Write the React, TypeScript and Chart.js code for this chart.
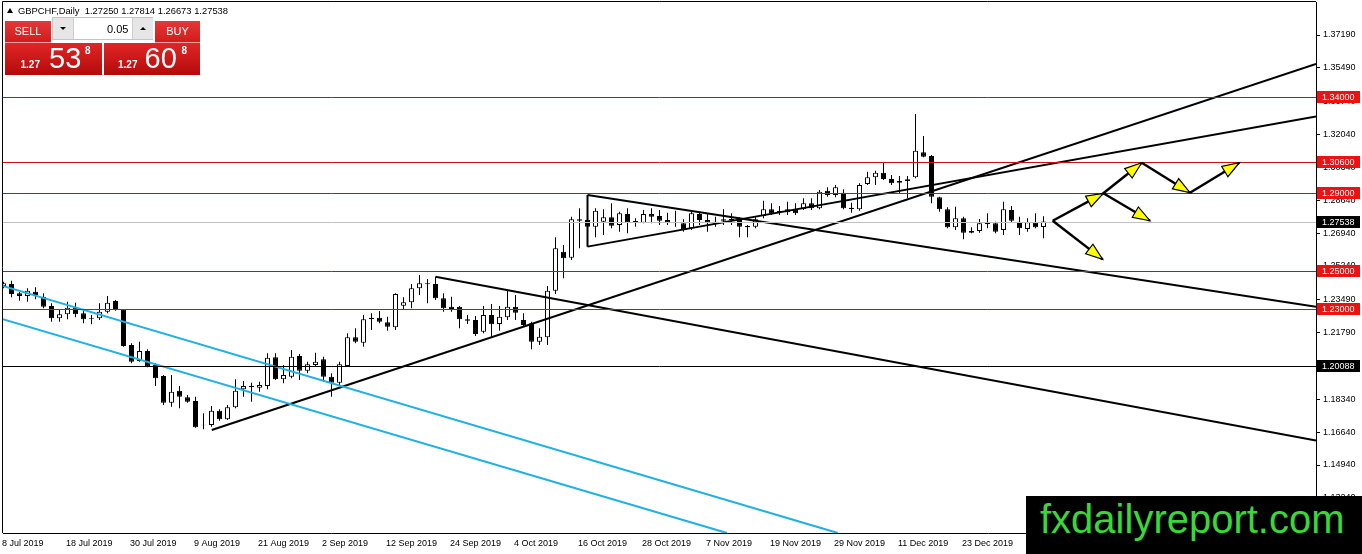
import React, { useEffect, useRef } from "react";
import { Chart, registerables } from "chart.js";

Chart.register(...registerables);

const FONT = "'Liberation Sans', Arial, sans-serif";

// ---- Daily candles (GBPCHF), bar index 0 = 8 Jul 2019 ----
const opens = [
  1.24203, 1.24306, 1.23823, 1.23685, 1.23909, 1.23651, 1.23168, 1.2253, 1.22737, 1.23099,
  1.22788, 1.2253, 1.2253, 1.22875, 1.23426, 1.22995, 1.2115, 1.20322, 1.20839, 1.20115,
  1.19546, 1.18166, 1.18787, 1.18442, 1.18252, 1.16993, 1.1701, 1.17752, 1.17303, 1.17924,
  1.18856, 1.18959, 1.18942, 1.19028, 1.20512, 1.19373, 1.19511, 1.20581, 1.19822, 1.20115,
  1.20408, 1.19511, 1.19201, 1.20063, 1.21546, 1.2127, 1.22564, 1.22564, 1.22322, 1.22063,
  1.23185, 1.23357, 1.24081, 1.2434, 1.24306, 1.23564, 1.23133, 1.23133, 1.22477, 1.22443,
  1.21839, 1.22702, 1.22236, 1.22581, 1.23133, 1.22443, 1.2227, 1.21322, 1.21546, 1.23961,
  1.25979, 1.25668, 1.27652, 1.27617, 1.27272, 1.27531, 1.27755, 1.27359, 1.27928, 1.27566,
  1.27479, 1.27928, 1.27824, 1.27617, 1.27514, 1.27445, 1.27186, 1.27928, 1.27617, 1.27531,
  1.27583, 1.27686, 1.27669, 1.27307, 1.27272, 1.27824, 1.28169, 1.28014, 1.28014, 1.28169,
  1.28169, 1.2848, 1.28221, 1.29135, 1.28911, 1.29032, 1.28256, 1.2817, 1.29481, 1.29825,
  1.30067, 1.29739, 1.29549, 1.29636, 1.29825, 1.31119, 1.30929, 1.28791, 1.2817, 1.27238,
  1.27704, 1.27049, 1.27049, 1.27411, 1.27445, 1.271, 1.28135, 1.27531, 1.27152, 1.27497,
  1.2725,
];
const highs = [
  1.24427, 1.24479, 1.23909, 1.24082, 1.24134, 1.23823, 1.23306, 1.22961, 1.23392, 1.2334,
  1.22961, 1.22702, 1.23306, 1.23685, 1.23478, 1.22995, 1.21236, 1.21322, 1.20926, 1.20201,
  1.19597, 1.19597, 1.19028, 1.18563, 1.18476, 1.17614, 1.17993, 1.17821, 1.18045, 1.19373,
  1.19287, 1.19201, 1.19252, 1.20719, 1.20719, 1.20115, 1.20891, 1.20684, 1.20287, 1.20753,
  1.20546, 1.19684, 1.20287, 1.21753, 1.22012, 1.22702, 1.22788, 1.22909, 1.22615, 1.23823,
  1.23616, 1.24306, 1.24771, 1.24564, 1.24685, 1.23823, 1.2365, 1.23167, 1.22702, 1.2265,
  1.23167, 1.23271, 1.23167, 1.23961, 1.23736, 1.22788, 1.22357, 1.22012, 1.24202, 1.2672,
  1.26324, 1.2779, 1.28221, 1.27962, 1.28221, 1.28169, 1.2848, 1.28049, 1.28221, 1.27704,
  1.28135, 1.28221, 1.28135, 1.27997, 1.281, 1.27652, 1.28049, 1.28049, 1.27962, 1.2779,
  1.28169, 1.27962, 1.27755, 1.27359, 1.2779, 1.28618, 1.2848, 1.28342, 1.28566, 1.2848,
  1.28738, 1.28738, 1.2917, 1.29308, 1.29428, 1.29205, 1.28515, 1.29515, 1.30119, 1.3017,
  1.30584, 1.29946, 1.29894, 1.29894, 1.33103, 1.31964, 1.30981, 1.28825, 1.28273, 1.28308,
  1.2779, 1.27238, 1.27669, 1.27963, 1.27531, 1.28566, 1.28342, 1.2779, 1.27704, 1.27963,
  1.27814,
];
const lows = [
  1.24082, 1.23616, 1.23444, 1.23392, 1.23513, 1.23047, 1.22357, 1.22357, 1.22478, 1.22581,
  1.22271, 1.22219, 1.22443, 1.22788, 1.22926, 1.21064, 1.20201, 1.20287, 1.19994, 1.19028,
  1.18045, 1.17959, 1.17873, 1.18166, 1.16872, 1.16786, 1.16924, 1.17234, 1.17269, 1.17873,
  1.18476, 1.18218, 1.18735, 1.18856, 1.19339, 1.19166, 1.19425, 1.19339, 1.19684, 1.20029,
  1.19252, 1.18476, 1.1908, 1.20029, 1.21235, 1.21063, 1.21925, 1.2227, 1.21891, 1.21925,
  1.22995, 1.23047, 1.23736, 1.23305, 1.23478, 1.22874, 1.22874, 1.22012, 1.22236, 1.21615,
  1.21753, 1.2158, 1.21891, 1.22443, 1.22443, 1.22098, 1.20925, 1.21149, 1.21149, 1.23788,
  1.24599, 1.25547, 1.26151, 1.27186, 1.2672, 1.26841, 1.27186, 1.27014, 1.26927, 1.27272,
  1.27445, 1.27445, 1.27359, 1.27359, 1.27272, 1.27014, 1.271, 1.27359, 1.27014, 1.27272,
  1.27359, 1.27359, 1.2672, 1.2672, 1.27186, 1.27704, 1.27876, 1.27876, 1.27876, 1.27876,
  1.28135, 1.28135, 1.28169, 1.28825, 1.2879, 1.2817, 1.27997, 1.28101, 1.29429, 1.29429,
  1.29687, 1.29429, 1.28998, 1.28739, 1.29774, 1.3086, 1.2848, 1.28049, 1.27187, 1.271,
  1.26617, 1.26928, 1.26962, 1.27187, 1.26928, 1.26842, 1.2748, 1.26842, 1.27014, 1.27187,
  1.26673,
];
const closes = [
  1.24341, 1.23789, 1.23685, 1.23961, 1.23737, 1.23133, 1.2253, 1.22737, 1.23082, 1.22737,
  1.22478, 1.22495, 1.22875, 1.2334, 1.22961, 1.21098, 1.20287, 1.20839, 1.20029, 1.19425,
  1.18166, 1.18735, 1.18476, 1.18218, 1.1689, 1.17027, 1.17752, 1.17303, 1.17924, 1.18787,
  1.19028, 1.19045, 1.1908, 1.20494, 1.19373, 1.19597, 1.20546, 1.19822, 1.20149, 1.20287,
  1.19511, 1.19201, 1.20149, 1.21546, 1.21322, 1.22477, 1.22477, 1.22357, 1.22098, 1.23788,
  1.23357, 1.24081, 1.2434, 1.24288, 1.23564, 1.23047, 1.23012, 1.22477, 1.22408, 1.21718,
  1.22702, 1.22219, 1.22615, 1.23133, 1.22822, 1.22184, 1.21322, 1.2158, 1.23961, 1.26151,
  1.25634, 1.27652, 1.27583, 1.27272, 1.281, 1.27755, 1.27324, 1.27962, 1.27479, 1.27497,
  1.27928, 1.2779, 1.27583, 1.27479, 1.27479, 1.27134, 1.27962, 1.27617, 1.27479, 1.2741,
  1.27652, 1.27617, 1.27272, 1.27238, 1.27652, 1.28169, 1.27962, 1.28083, 1.28169, 1.27962,
  1.2848, 1.28221, 1.29083, 1.28911, 1.29308, 1.28221, 1.28187, 1.29429, 1.29825, 1.30067,
  1.29739, 1.29515, 1.29636, 1.29722, 1.31205, 1.30895, 1.28825, 1.2817, 1.27238, 1.27704,
  1.26962, 1.26962, 1.27445, 1.2748, 1.27014, 1.2817, 1.27583, 1.27187, 1.27497, 1.27238,
  1.27538,
];

// ---- Axes ----
const xTickIndex = [0, 8, 16, 24, 32, 40, 48, 56, 64, 72, 80, 88, 96, 104, 112, 120];
const xTickLabels = [
  "8 Jul 2019", "18 Jul 2019", "30 Jul 2019", "9 Aug 2019", "21 Aug 2019", "2 Sep 2019",
  "12 Sep 2019", "24 Sep 2019", "4 Oct 2019", "16 Oct 2019", "28 Oct 2019", "7 Nov 2019",
  "19 Nov 2019", "29 Nov 2019", "11 Dec 2019", "23 Dec 2019",
];
const yTicks = [
  1.3719, 1.3549, 1.3374, 1.3204, 1.3034, 1.2864, 1.2694, 1.2524, 1.2349, 1.2179, 1.2009,
  1.1834, 1.1664, 1.1494, 1.1324,
];
const X_MIN = -0.0625;
const X_MAX = 164.0625;
const Y_MIN = 1.11422;
const Y_MAX = 1.38898;

// ---- Levels ----
const redLevels = [1.34, 1.306, 1.29, 1.25, 1.23];
const blackLevel = 1.20088;
const bidLevel = 1.27538;

// ---- Trend lines [barIndex, price] ----
const trendCyanUpper = [[-0.44, 1.2425], [104.3, 1.1142]];
const trendCyanLower = [[-0.44, 1.2253], [90.44, 1.1142]];
const trendAugLow = [[26.03, 1.1675], [164.06, 1.3569]];
const trendTriTop = [[73, 1.2891], [164.06, 1.2313]];
const trendTriBottom = [[73, 1.2624], [164.06, 1.3297]];
const trendTriSide = [[73, 1.2891], [73, 1.2624]];
const trendSepHigh = [[54, 1.2468], [164.06, 1.1621]];

// ---- Scenario arrows ----
const arrowStartX = [131.15, 137.48, 142.28, 148.31, 137.48, 131.15];
const arrowStartY = [1.2758, 1.29, 1.3058, 1.2903, 1.29, 1.2758];
const arrowEndX = [137.48, 142.28, 148.31, 154.48, 143.31, 137.4];
const arrowEndY = [1.29, 1.3058, 1.2903, 1.3058, 1.2758, 1.2558];

const overlayPlugin = {
  id: "mt4Overlay",
  afterDatasetsDraw(chart: any) {
    const { ctx, chartArea: a, scales } = chart;
    const xs = scales.x;
    const ys = scales.y;
    ctx.save();
    ctx.beginPath();
    ctx.rect(a.left, a.top, a.right - a.left, a.bottom - a.top);
    ctx.clip();
    const hline = (v: number, color: string) => {
      const py = Math.round(ys.getPixelForValue(v)) + 0.5;
      ctx.strokeStyle = color;
      ctx.lineWidth = 1;
      ctx.beginPath();
      ctx.moveTo(a.left, py);
      ctx.lineTo(a.right, py);
      ctx.stroke();
    };
    hline(bidLevel, "#c0c0c0");
    hline(blackLevel, "#000000");
    redLevels.forEach((v) => hline(v, "#cc1010"));

    for (let k = 0; k < arrowStartX.length; k++) {
      const x1 = xs.getPixelForValue(arrowStartX[k]);
      const y1 = ys.getPixelForValue(arrowStartY[k]);
      const x2 = xs.getPixelForValue(arrowEndX[k]);
      const y2 = ys.getPixelForValue(arrowEndY[k]);
      ctx.strokeStyle = "#000";
      ctx.lineWidth = 2.5;
      ctx.beginPath();
      ctx.moveTo(x1, y1);
      ctx.lineTo(x2, y2);
      ctx.stroke();
      const ang = Math.atan2(y2 - y1, x2 - x1);
      const L = 17;
      const W = 6;
      const c = Math.cos(ang);
      const s = Math.sin(ang);
      const bx = x2 - L * c;
      const by = y2 - L * s;
      ctx.beginPath();
      ctx.moveTo(x2, y2);
      ctx.lineTo(bx - W * s, by + W * c);
      ctx.lineTo(bx + W * s, by - W * c);
      ctx.closePath();
      ctx.fillStyle = "#ffff00";
      ctx.fill();
      ctx.lineWidth = 1.2;
      ctx.stroke();
    }
    ctx.restore();
  },
  afterDraw(chart: any) {
    const { ctx, chartArea: a, scales } = chart;
    const ys = scales.y;
    ctx.save();
    ctx.strokeStyle = "#000";
    ctx.lineWidth = 1;
    ctx.beginPath();
    ctx.moveTo(a.left - 0.5, a.bottom);
    ctx.lineTo(a.left - 0.5, a.top - 0.5);
    ctx.lineTo(a.right, a.top - 0.5);
    ctx.stroke();
    const label = (v: number, bg: string) => {
      const py = Math.round(ys.getPixelForValue(v));
      ctx.fillStyle = bg;
      ctx.fillRect(a.right + 1, py - 6, 43, 12);
      ctx.fillStyle = "#ffffff";
      ctx.font = `9px ${FONT}`;
      ctx.textBaseline = "middle";
      ctx.textAlign = "left";
      ctx.fillText(v.toFixed(5), a.right + 6, py + 0.5);
    };
    redLevels.forEach((v) => label(v, "#ee1111"));
    label(bidLevel, "#000000");
    label(blackLevel, "#000000");
    ctx.restore();
  },
};

function lineDataset(points: number[][], color: string) {
  return {
    type: "line" as const,
    data: points.map((p) => ({ x: p[0], y: p[1] })),
    borderColor: color,
    borderWidth: 2,
    pointRadius: 0,
    fill: false,
    tension: 0,
    clip: 0,
    order: 1,
  };
}

export default function App() {
  const canvasRef = useRef<HTMLCanvasElement | null>(null);

  useEffect(() => {
    const canvas = canvasRef.current;
    if (!canvas) return;
    const wickData = highs.map((h, i) => ({ x: i, y: [lows[i], h] }));
    const bodyData = opens.map((o, i) => ({ x: i, y: [o, closes[i]] }));
    const bodyColors = opens.map((o, i) => (closes[i] >= o ? "#ffffff" : "#000000"));

    const chart = new Chart(canvas, {
      type: "bar",
      data: {
        datasets: [
          {
            type: "bar",
            data: wickData as any,
            backgroundColor: "#000000",
            borderWidth: 0,
            barThickness: 1,
            grouped: false,
            inflateAmount: 0,
            order: 3,
          } as any,
          {
            type: "bar",
            data: bodyData as any,
            backgroundColor: bodyColors,
            borderColor: "#000000",
            borderWidth: 1,
            borderSkipped: false,
            barThickness: 5,
            grouped: false,
            inflateAmount: 0,
            order: 2,
          } as any,
          lineDataset(trendCyanUpper, "#1fb0e6"),
          lineDataset(trendCyanLower, "#1fb0e6"),
          lineDataset(trendAugLow, "#000000"),
          lineDataset(trendTriTop, "#000000"),
          lineDataset(trendTriBottom, "#000000"),
          lineDataset(trendTriSide, "#000000"),
          lineDataset(trendSepHigh, "#000000"),
        ] as any,
      },
      options: {
        animation: false,
        responsive: true,
        maintainAspectRatio: false,
        events: [],
        layout: { padding: { left: 3, top: 2, right: 0, bottom: 0 } },
        plugins: { legend: { display: false }, tooltip: { enabled: false }, title: { display: false } },
        scales: {
          x: {
            type: "linear",
            min: X_MIN,
            max: X_MAX,
            offset: false,
            grid: { display: false, offset: false },
            border: { display: true, color: "#000000", width: 1 },
            afterBuildTicks: (s: any) => {
              s.ticks = xTickIndex.map((v) => ({ value: v }));
            },
            afterFit: (s: any) => {
              s.height = 21;
              s.paddingLeft = 0;
              s.paddingRight = 0;
            },
            ticks: {
              autoSkip: false,
              maxRotation: 0,
              minRotation: 0,
              align: "start",
              labelOffset: -1.5,
              padding: -3,
              color: "#000000",
              font: { family: FONT, size: 9 },
              callback: (_v: any, i: number) => xTickLabels[i],
            },
          },
          y: {
            type: "linear",
            position: "right",
            min: Y_MIN,
            max: Y_MAX,
            beginAtZero: false,
            grid: { display: true, drawOnChartArea: false, drawTicks: true, tickLength: 4, color: "#000000" },
            border: { display: true, color: "#000000", width: 1 },
            afterBuildTicks: (s: any) => {
              s.ticks = yTicks.map((v) => ({ value: v }));
            },
            afterFit: (s: any) => {
              s.width = 46;
              s.paddingTop = 0;
              s.paddingBottom = 0;
            },
            ticks: {
              autoSkip: false,
              padding: 3,
              color: "#000000",
              font: { family: FONT, size: 9 },
              callback: (v: any) => Number(v).toFixed(5),
            },
          },
        },
      } as any,
      plugins: [overlayPlugin],
    });
    return () => chart.destroy();
  }, []);

  const abs = (o: any) => ({ position: "absolute" as const, ...o });

  return (
    <div
      style={{
        position: "fixed",
        left: 0,
        top: 0,
        width: 1362,
        height: 554,
        background: "#ffffff",
        overflow: "hidden",
        fontFamily: FONT,
      }}
    >
      <div style={abs({ left: 0, top: 0, width: 1362, height: 554 })}>
        <canvas ref={canvasRef} />
      </div>

      {/* title */}
      <div
        style={abs({
          left: 7,
          top: 8,
          width: 0,
          height: 0,
          borderLeft: "3.5px solid transparent",
          borderRight: "3.5px solid transparent",
          borderBottom: "5px solid #000",
        })}
      />
      <div style={abs({ left: 18, top: 6.2, fontSize: 9.4, lineHeight: "9.4px", whiteSpace: "pre", color: "#000" })}>
        {"GBPCHF,Daily  1.27250 1.27814 1.26673 1.27538"}
      </div>

      {/* trade panel */}
      <div
        style={abs({
          left: 5,
          top: 21,
          width: 46,
          height: 21,
          background: "linear-gradient(#e43838, #d21c1c)",
          borderBottom: "1px solid #f0a0a0",
          color: "#fff",
          fontSize: 11,
          lineHeight: "21px",
          textAlign: "center",
        })}
      >
        SELL
      </div>
      <div
        style={abs({
          left: 155,
          top: 21,
          width: 45,
          height: 21,
          background: "linear-gradient(#e43838, #d21c1c)",
          borderBottom: "1px solid #f0a0a0",
          color: "#fff",
          fontSize: 11,
          lineHeight: "21px",
          textAlign: "center",
        })}
      >
        BUY
      </div>
      <div
        style={abs({
          left: 52,
          top: 17,
          width: 99,
          height: 21,
          border: "1px solid #c4c4c4",
          background: "#fff",
        })}
      >
        <div style={abs({ left: 0, top: 0, width: 20, height: 21, background: "#e6e6e6", borderRight: "1px solid #cfcfcf" })}>
          <div
            style={abs({
              left: 7,
              top: 9,
              width: 0,
              height: 0,
              borderLeft: "3px solid transparent",
              borderRight: "3px solid transparent",
              borderTop: "3px solid #000",
            })}
          />
        </div>
        <div style={abs({ left: 54, top: 5.5, fontSize: 11, lineHeight: "11px", color: "#000" })}>0.05</div>
        <div style={abs({ left: 79, top: 0, width: 20, height: 21, background: "#e6e6e6", borderLeft: "1px solid #cfcfcf" })}>
          <div
            style={abs({
              left: 7,
              top: 9,
              width: 0,
              height: 0,
              borderLeft: "3px solid transparent",
              borderRight: "3px solid transparent",
              borderBottom: "3px solid #000",
            })}
          />
        </div>
      </div>
      <div style={abs({ left: 5, top: 43, width: 97, height: 32, background: "linear-gradient(#e02626, #b40a0a)" })} />
      <div style={abs({ left: 103.5, top: 43, width: 96.5, height: 32, background: "linear-gradient(#e02626, #b40a0a)" })} />
      <div style={abs({ left: 20.5, top: 59.5, fontSize: 10, fontWeight: "bold", lineHeight: "10px", color: "#fff" })}>1.27</div>
      <div style={abs({ left: 49, top: 43.5, fontSize: 29, lineHeight: "29px", color: "#fff" })}>53</div>
      <div style={abs({ left: 85, top: 46, fontSize: 10, fontWeight: "bold", lineHeight: "10px", color: "#fff" })}>8</div>
      <div style={abs({ left: 118, top: 59.5, fontSize: 10, fontWeight: "bold", lineHeight: "10px", color: "#fff" })}>1.27</div>
      <div style={abs({ left: 144.5, top: 43.5, fontSize: 29, lineHeight: "29px", color: "#fff" })}>60</div>
      <div style={abs({ left: 181.5, top: 46, fontSize: 10, fontWeight: "bold", lineHeight: "10px", color: "#fff" })}>8</div>

      {/* watermark */}
      <div style={abs({ left: 1026, top: 496, width: 336, height: 58, background: "#000" })}>
        <div style={abs({ left: 14, top: 3, fontSize: 40, lineHeight: "40px", color: "#38d838", whiteSpace: "nowrap" })}>
          fxdailyreport.com
        </div>
      </div>
    </div>
  );
}
